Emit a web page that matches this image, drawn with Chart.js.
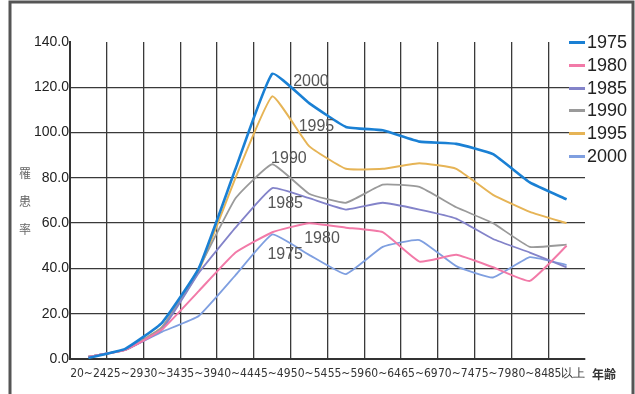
<!DOCTYPE html>
<html>
<head>
<meta charset="utf-8">
<script src="https://cdn.jsdelivr.net/npm/chart.js@4"></script>
<style>
  body { margin: 0; background: #ffffff; }
  #wrap { position: relative; width: 635px; height: 394px; }
  #legend { position: absolute; left: 569px; top: 0; }
  .item { position: absolute; left: 0; width: 66px; height: 20px; }
  .item span.swatch { position: absolute; left: 0; top: 9px; width: 16px; height: 3px; }
  .item span.label { position: absolute; left: 18px; top: 0; font: 18px "Liberation Sans", Arial, sans-serif; color: #222; line-height: 20px; }
</style>
</head>
<body>
<div id="wrap">
  <canvas id="chart" width="635" height="394"></canvas>
  <div id="legend"></div>
</div>
<script>
// age groups on the x axis
const age_groups = ["20~24", "25~29", "30~34", "35~39", "40~44", "45~49", "50~54",
  "55~59", "60~64", "65~69", "70~74", "75~79", "80~84", "85以上"];

// rates per year
const rate_1975 = [0.5, 4.5, 16, 40, 84, 126, 113, 102.5, 101, 96, 95, 90.5, 78, 70.5];
const rate_1980 = [1, 4, 13, 30, 47, 56, 60, 58, 56, 43, 46, 40.5, 34.5, 50];
const rate_1985 = [1, 4, 13, 38, 58, 75.5, 71, 66, 69, 66, 62, 53, 47, 40.5];
const rate_1990 = [1, 4, 14, 40, 71, 86, 73, 69, 77, 76, 67, 60, 49.5, 50.5];
const rate_1995 = [1, 4, 14, 39, 80, 116, 94, 84, 84, 86.5, 84, 72.5, 65, 60];
const rate_2000 = [1, 4, 12, 19, 37, 55, 46, 37.5, 49.5, 52.5, 41, 36, 45, 41.5];

const series_names = ["1975", "1980", "1985", "1990", "1995", "2000"];
const series_data = [rate_1975, rate_1980, rate_1985, rate_1990, rate_1995, rate_2000];
const series_colors = ["#1a80d4", "#f27aa8", "#8383c9", "#9a9a9a", "#e6b456", "#7f9fe0"];
const series_widths = [2.6, 2, 1.8, 1.8, 2, 1.8];

// in-chart text labels: [text, category position, value]
const note_text = ["2000", "1995", "1990", "1985", "1980", "1975"];
const note_pos = [6.05, 6.2, 5.45, 5.35, 6.35, 5.35];
const note_value = [122.5, 102.5, 88.5, 68.5, 53, 46];

const y_ticks = [0, 20, 40, 60, 80, 100, 120, 140];

// Building the legend
const legend_div = document.getElementById("legend");
series_names.forEach((name, i) => {
  const item = document.createElement("div");
  item.className = "item";
  item.style.top = (32 + i * 22.8) + "px";
  item.innerHTML = `<span class="swatch" style="background:${series_colors[i]}"></span><span class="label">${name}</span>`;
  legend_div.appendChild(item);
});

// extra drawing: frame, axis titles, notes
const extras_plugin = {
  id: "extras",
  afterDraw(chart) {
    const ctx = chart.ctx;
    const x_scale = chart.scales.x;
    const y_scale = chart.scales.y;
    ctx.save();

    // frame on top, left and right
    ctx.strokeStyle = "#555";
    ctx.lineWidth = 3;
    ctx.beginPath();
    ctx.moveTo(10, 394);
    ctx.lineTo(10, 2);
    ctx.lineTo(633, 2);
    ctx.lineTo(633, 394);
    ctx.stroke();

    // vertical y title
    ctx.fillStyle = "#666";
    ctx.font = "12px 'Noto Sans CJK JP'";
    ctx.textAlign = "center";
    ctx.textBaseline = "middle";
    ["罹", "患", "率"].forEach((ch, i) => {
      ctx.fillText(ch, 25, 173 + i * 28);
    });

    // x axis title
    ctx.fillStyle = "#333";
    ctx.font = "bold 12px 'Noto Sans CJK JP'";
    ctx.fillText("年齢", 604, 374);

    // notes next to the lines
    ctx.fillStyle = "#555";
    ctx.font = "16px 'Liberation Sans', Arial, sans-serif";
    note_text.forEach((t, i) => {
      const px = x_scale.getPixelForValue(note_pos[i]);
      const py = y_scale.getPixelForValue(note_value[i]);
      ctx.fillText(t, px, py);
    });
    ctx.restore();
  },
};

const datasets = series_names.map((name, i) => ({
  label: name,
  data: series_data[i],
  borderColor: series_colors[i],
  borderWidth: series_widths[i],
  pointRadius: 0,
  tension: 0.12,
  fill: false,
}));

const config = {
  type: "line",
  data: { labels: age_groups, datasets: datasets },
  options: {
    responsive: false,
    animation: false,
    layout: { padding: { top: 42, right: 50, bottom: 0, left: 0 } },
    plugins: { legend: { display: false }, tooltip: { enabled: false } },
    scales: {
      x: {
        offset: true,
        grid: {
          offset: true,
          drawTicks: false,
          lineWidth: 1.3,
          color: (c) => (c.type === "tick" && c.index > 0 ? "#3a3a3a" : "rgba(0,0,0,0)"),
        },
        border: { color: "#333", width: 2 },
        ticks: {
          autoSkip: false,
          maxRotation: 0,
          padding: 8,
          color: "#333",
          font: { family: "'Liberation Sans Narrow', 'DejaVu Sans Condensed', sans-serif", size: 12 },
        },
        afterFit: (s) => { s.height = 35; },
      },
      y: {
        min: 0,
        max: 140,
        afterBuildTicks: (s) => { s.ticks = y_ticks.map((v) => ({ value: v })); },
        grid: {
          drawTicks: false,
          lineWidth: 1.3,
          color: (c) => (c.tick && c.tick.value < 140 ? "#3a3a3a" : "rgba(0,0,0,0)"),
        },
        border: { color: "#333", width: 2 },
        ticks: {
          padding: 1,
          color: "#222",
          font: { family: "'Liberation Sans', Arial, sans-serif", size: 14 },
          callback: (v) => v.toFixed(1),
        },
        afterFit: (s) => { s.width = 70; },
      },
    },
  },
  plugins: [extras_plugin],
};

const my_chart = new Chart(document.getElementById("chart").getContext("2d"), config);
</script>
</body>
</html>
